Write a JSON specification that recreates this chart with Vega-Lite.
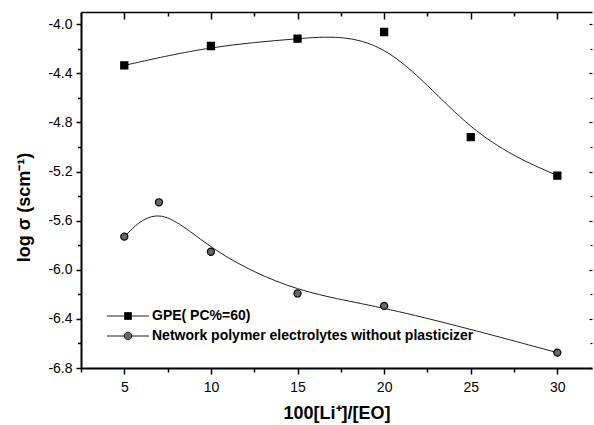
{
  "$schema": "https://vega.github.io/schema/vega-lite/v6.json",
  "width": 511,
  "height": 356,
  "autosize": {"type": "none"},
  "padding": {"left": 81, "top": 12, "right": 2, "bottom": 57},
  "background": "white",
  "config": {
    "view": {"stroke": null},
    "font": "Liberation Sans",
    "axis": {"grid": false, "domainColor": "black", "tickColor": "black", "labelColor": "black", "titleColor": "black", "labelFont": "Liberation Sans", "titleFont": "Liberation Sans"},
    "legend": {
      "orient": "none", "legendX": 40, "legendY": 297, "title": null,
      "padding": 0, "labelFontSize": 14, "labelFontWeight": "bold", "labelColor": "black",
      "labelFont": "Liberation Sans", "symbolSize": 100, "labelOffset": 17, "rowPadding": 6, "labelLimit": 0,
      "symbolStrokeWidth": 1
    }
  },
  "data": {
    "values": [
      {"series": "GPE( PC%=60)", "x": 5, "y": -4.335},
      {"series": "GPE( PC%=60)", "x": 10, "y": -4.177},
      {"series": "GPE( PC%=60)", "x": 15, "y": -4.117},
      {"series": "GPE( PC%=60)", "x": 20, "y": -4.063},
      {"series": "GPE( PC%=60)", "x": 25, "y": -4.92},
      {"series": "GPE( PC%=60)", "x": 30, "y": -5.233},
      {"series": "Network polymer electrolytes without plasticizer", "x": 5, "y": -5.73},
      {"series": "Network polymer electrolytes without plasticizer", "x": 7, "y": -5.45},
      {"series": "Network polymer electrolytes without plasticizer", "x": 10, "y": -5.853},
      {"series": "Network polymer electrolytes without plasticizer", "x": 15, "y": -6.193},
      {"series": "Network polymer electrolytes without plasticizer", "x": 20, "y": -6.294},
      {"series": "Network polymer electrolytes without plasticizer", "x": 30, "y": -6.675}
    ]
  },
  "layer": [
    {
      "mark": {"type": "line", "interpolate": "basis", "stroke": "#222", "strokeWidth": 1},
      "encoding": {
        "x": {
          "field": "x", "type": "quantitative",
          "scale": {"domain": [2.5, 32], "nice": false, "zero": false},
          "axis": {
            "orient": "bottom",
            "values": [2.5, 5, 7.5, 10, 12.5, 15, 17.5, 20, 22.5, 25, 27.5, 30],
            "labelExpr": "datum.value % 5 == 0 ? '' + datum.value : ''",
            "tickSize": {"condition": {"test": "datum.value % 5 == 0", "value": 6}, "value": 4},
            "tickWidth": 1.5,
            "domainWidth": 2,
            "labelFontSize": 14,
            "labelPadding": 6,
            "title": "100[Li⁺]/[EO]",
            "titleFontSize": 18,
            "titleFontWeight": "bold",
            "titlePadding": 10
          }
        },
        "y": {
          "field": "y", "type": "quantitative",
          "scale": {"domain": [-6.8, -3.9], "nice": false, "zero": false},
          "axis": {
            "orient": "left",
            "values": [-6.8, -6.6, -6.4, -6.2, -6.0, -5.8, -5.6, -5.4, -5.2, -5.0, -4.8, -4.6, -4.4, -4.2, -4.0],
            "labelExpr": "abs(round(datum.value * 10)) % 4 == 0 ? replace(format(datum.value, '.1f'), '−', '-') : ''",
            "tickSize": {"condition": {"test": "abs(round(datum.value * 10)) % 4 == 0", "value": 5}, "value": 3.5},
            "tickWidth": 1.5,
            "domainWidth": 2,
            "labelFontSize": 14,
            "labelPadding": 4,
            "title": "log σ (scm⁻¹)",
            "titleFontSize": 18,
            "titleFontWeight": "bold",
            "titleX": -57,
            "titleY": 195,
            "titleAlign": "center",
            "titleBaseline": "middle"
          }
        },
        "detail": {"field": "series"}
      }
    },
    {
      "mark": {"type": "point", "filled": true, "size": 50, "stroke": "black", "strokeWidth": 1.2, "opacity": 1},
      "encoding": {
        "x": {
          "field": "x", "type": "quantitative",
          "scale": {"domain": [2.5, 32], "nice": false, "zero": false},
          "axis": {
            "orient": "top",
            "values": [2.5, 5, 7.5, 10, 12.5, 15, 17.5, 20, 22.5, 25, 27.5, 30],
            "labels": false,
            "title": null,
            "tickSize": {"condition": {"test": "datum.value % 5 == 0", "value": -7}, "value": -4},
            "tickWidth": 1.5,
            "domainWidth": 1.5
          }
        },
        "y": {
          "field": "y", "type": "quantitative",
          "scale": {"domain": [-6.8, -3.9], "nice": false, "zero": false},
          "axis": {
            "orient": "right",
            "values": [-6.8, -6.6, -6.4, -6.2, -6.0, -5.8, -5.6, -5.4, -5.2, -5.0, -4.8, -4.6, -4.4, -4.2, -4.0],
            "labels": false,
            "title": null,
            "domain": false,
            "tickSize": {"condition": {"test": "abs(round(datum.value * 10)) % 4 == 0", "value": -3}, "value": -2},
            "tickWidth": 1.2
          }
        },
        "shape": {
          "field": "series", "type": "nominal",
          "scale": {"domain": ["GPE( PC%=60)", "Network polymer electrolytes without plasticizer"], "range": ["square", "circle"]},
          "legend": null
        },
        "fill": {
          "field": "series", "type": "nominal",
          "scale": {"domain": ["GPE( PC%=60)", "Network polymer electrolytes without plasticizer"], "range": ["black", "#666666"]},
          "legend": null
        }
      }
    },
    {
      "transform": [{"filter": "false"}],
      "mark": {"type": "point", "filled": true, "opacity": 1},
      "encoding": {
        "shape": {
          "field": "series", "type": "nominal",
          "scale": {"domain": ["GPE( PC%=60)", "Network polymer electrolytes without plasticizer"], "range": ["M-4.2,0H-0.7M0.7,0H4.2M-0.7,-0.7H0.7V0.7H-0.7Z", "M-4.2,0H-0.75M0.75,0H4.2M0.75,0A0.75,0.75,0,1,1,-0.75,0A0.75,0.75,0,1,1,0.75,0Z"]},
          "legend": {}
        },
        "fill": {
          "field": "series", "type": "nominal",
          "scale": {"domain": ["GPE( PC%=60)", "Network polymer electrolytes without plasticizer"], "range": ["black", "#666666"]},
          "legend": {}
        },
        "stroke": {
          "field": "series", "type": "nominal",
          "scale": {"domain": ["GPE( PC%=60)", "Network polymer electrolytes without plasticizer"], "range": ["#222222", "#222222"]},
          "legend": {}
        }
      }
    }
  ],
  "resolve": {
    "axis": {"x": "independent", "y": "independent"},
    "scale": {"shape": "independent", "fill": "independent", "stroke": "independent"}
  }
}
